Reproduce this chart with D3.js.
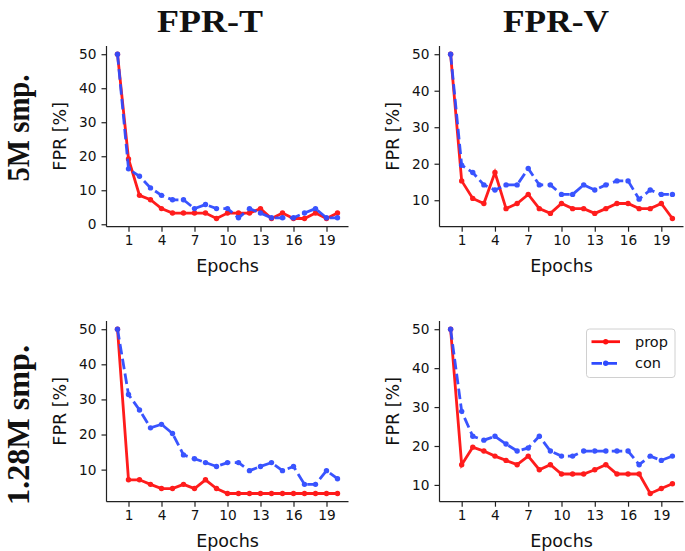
<!DOCTYPE html>
<html lang="en">
<head>
<meta charset="UTF-8">
<title>FPR curves</title>
<script src="https://d3js.org/d3.v7.min.js"></script>
<style>
  body { margin: 0; background: #fff; }
  svg text { font-family: "DejaVu Sans", sans-serif; fill: #111; }
  .big { font-family: "Liberation Serif", "DejaVu Serif", serif !important; font-weight: bold; }
</style>
</head>
<body>
<div id="chart"></div>
<script>
// epochs 0..20
const epochs = d3.range(0, 21);
const xTicks = [1, 4, 7, 10, 13, 16, 19];
const colTitles = ["FPR-T", "FPR-V"];
const rowTitles = ["5M smp.", "1.28M smp."];

// 5M samples
const propT5 = [50, 19.2, 8.5, 7.2, 4.6, 3.3, 3.3, 3.3, 3.3, 1.7, 3.3, 3.3, 3.3, 4.6, 1.7, 3.3, 1.7, 1.7, 3.3, 1.7, 3.3];
const conT5  = [50, 16.3, 14.1, 10.7, 8.5, 7.2, 7.2, 4.6, 5.8, 4.6, 4.6, 1.9, 4.6, 3.3, 1.9, 1.9, 1.9, 3.3, 4.6, 1.9, 1.9];
const propV5 = [50, 15.3, 10.5, 9.1, 17.6, 7.7, 9.1, 11.6, 7.7, 6.4, 9.1, 7.7, 7.7, 6.4, 7.7, 9.1, 9.1, 7.7, 7.7, 9.1, 5.0];
const conV5  = [50, 19.6, 17.6, 14.2, 12.8, 14.2, 14.2, 18.7, 14.2, 14.2, 11.6, 11.6, 14.2, 12.8, 14.2, 15.3, 15.3, 10.3, 12.8, 11.6, 11.6];

// 1.28M samples
const propT1 = [50, 7.1, 7.1, 5.8, 4.6, 4.6, 5.8, 4.6, 7.1, 4.6, 3.2, 3.2, 3.2, 3.2, 3.2, 3.2, 3.2, 3.2, 3.2, 3.2, 3.2];
const conT1  = [50, 31.4, 27.0, 21.9, 22.9, 20.3, 14.2, 13.1, 12.0, 10.9, 12.0, 12.0, 9.7, 10.9, 12.0, 9.7, 10.9, 5.8, 5.8, 9.7, 7.4];
const propV1 = [50, 15.2, 19.7, 18.7, 17.4, 16.3, 15.2, 17.4, 13.9, 15.2, 12.8, 12.8, 12.8, 13.9, 15.2, 12.8, 12.8, 12.8, 7.8, 9.1, 10.3];
const conV1  = [50, 28.9, 22.5, 21.5, 22.5, 20.5, 18.7, 19.5, 22.5, 18.7, 17.4, 17.4, 18.7, 18.7, 18.7, 18.7, 18.7, 15.2, 17.4, 16.3, 17.4];

const seriesNames = ["prop", "con"];
const colors = { prop: "#ff1010", con: "#2f4bff" };

const panels = [
  { prop: propT5, con: conT5, x0: 106.5, x1: 348.5, y0: 46, y1: 226.7, legend: false },
  { prop: propV5, con: conV5, x0: 439.5, x1: 683.5, y0: 46, y1: 226.7, legend: false },
  { prop: propT1, con: conT1, x0: 106.5, x1: 348.5, y0: 321, y1: 501.7, legend: false },
  { prop: propV1, con: conV1, x0: 439.5, x1: 683.5, y0: 321, y1: 501.7, legend: true }
];

const width = 685, height = 551;
const svg = d3.select("#chart").append("svg")
  .attr("width", width)
  .attr("height", height);

panels.forEach(p => {
  const all = p.prop.concat(p.con);
  const lo = d3.min(all), hi = d3.max(all);
  const pad = (hi - lo) * 0.05;

  const x = d3.scaleLinear().domain([-1, 21]).range([p.x0, p.x1]);
  const y = d3.scaleLinear().domain([lo - pad, hi + pad]).range([p.y1, p.y0]);
  const yTicks = d3.range(0, 51, 10).filter(v => v >= lo - pad);

  const g = svg.append("g");

  // axes
  const xAxis = g.append("g")
    .attr("transform", `translate(0,${p.y1})`)
    .call(d3.axisBottom(x).tickValues(xTicks).tickSize(5).tickPadding(4));
  const yAxis = g.append("g")
    .attr("transform", `translate(${p.x0},0)`)
    .call(d3.axisLeft(y).tickValues(yTicks).tickSize(5).tickPadding(5));
  [xAxis, yAxis].forEach(a => {
    a.select(".domain").attr("stroke", "#222").attr("stroke-width", 1.2);
    a.selectAll(".tick line").attr("stroke", "#222").attr("stroke-width", 1.2);
    a.selectAll(".tick text").style("font-size", "13.7px").attr("fill", "#111");
  });
  xAxis.select(".domain").attr("d", `M${p.x0},0H${p.x1}`);
  yAxis.select(".domain").attr("d", `M0,${p.y0}V${p.y1}`);

  g.append("text")
    .attr("x", (p.x0 + p.x1) / 2)
    .attr("y", p.y1 + 45.5)
    .attr("text-anchor", "middle")
    .style("font-size", "17.5px")
    .text("Epochs");

  g.append("text")
    .attr("transform", `translate(${p.x0 - 41},${(p.y0 + p.y1) / 2}) rotate(-90)`)
    .attr("text-anchor", "middle")
    .style("font-size", "17.5px")
    .text("FPR [%]");

  const line = d3.line().x((d, i) => x(epochs[i])).y(d => y(d));

  seriesNames.forEach(name => {
    const s = g.append("g").attr("opacity", 0.95);
    s.append("path")
      .datum(p[name])
      .attr("fill", "none")
      .attr("stroke", colors[name])
      .attr("stroke-width", 2.8)
      .attr("stroke-dasharray", name === "con" ? "10.5,4.5" : null)
      .attr("d", line);
    s.selectAll("circle")
      .data(p[name])
      .enter().append("circle")
      .attr("cx", (d, i) => x(epochs[i]))
      .attr("cy", d => y(d))
      .attr("r", 2.7)
      .attr("fill", colors[name]);
  });

  if (p.legend) {
    const lg = g.append("g");
    lg.append("rect")
      .attr("x", 586.5).attr("y", 329)
      .attr("width", 88.5).attr("height", 48.5)
      .attr("rx", 3)
      .attr("fill", "#fff").attr("fill-opacity", 0.8)
      .attr("stroke", "#d0d0d0").attr("stroke-width", 1);
    seriesNames.forEach((name, i) => {
      const ly = 341.7 + i * 21.6;
      lg.append("line")
        .attr("x1", 591.5).attr("x2", 620)
        .attr("y1", ly).attr("y2", ly)
        .attr("stroke", colors[name])
        .attr("stroke-width", 2.8)
        .attr("stroke-dasharray", name === "con" ? "10.5,4.5" : null);
      lg.append("circle")
        .attr("cx", 605.7).attr("cy", ly).attr("r", 2.7)
        .attr("fill", colors[name]);
      lg.append("text")
        .attr("x", 635).attr("y", ly + 5)
        .style("font-size", "14.5px")
        .text(name);
    });
  }
});

// column titles
[210, 556].forEach((cx, i) => {
  svg.append("text")
    .attr("class", "big")
    .attr("x", cx).attr("y", 32)
    .attr("text-anchor", "middle")
    .attr("textLength", 106)
    .attr("lengthAdjust", "spacingAndGlyphs")
    .style("font-size", "31px")
    .text(colTitles[i]);
});

// row titles
[[128, 107], [425, 160]].forEach(([cy, len], i) => {
  svg.append("text")
    .attr("class", "big")
    .attr("transform", `translate(29,${cy}) rotate(-90)`)
    .attr("text-anchor", "middle")
    .attr("textLength", len)
    .attr("lengthAdjust", "spacingAndGlyphs")
    .style("font-size", "31px")
    .text(rowTitles[i]);
});
</script>
</body>
</html>
